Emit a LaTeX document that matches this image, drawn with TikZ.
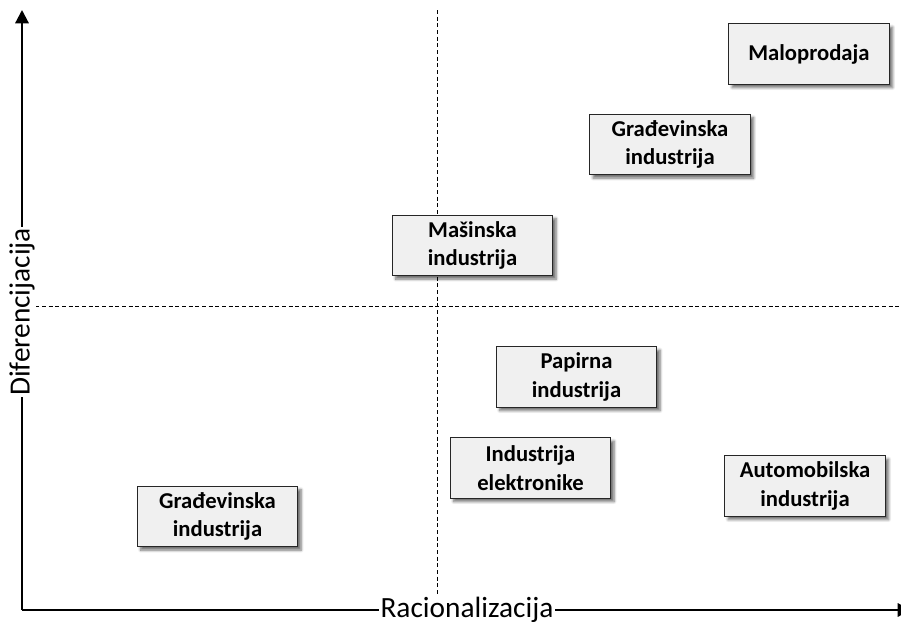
\documentclass[tikz,border=0pt]{standalone}
\usepackage{fontspec}
\setmainfont{Carlito}
\usetikzlibrary{arrows.meta,shadows.blur}
\begin{document}
\begin{tikzpicture}[x=0.75pt,y=-0.75pt,
  sector/.style={draw=black!85,line width=0.8pt,fill=black!6,
    minimum width=120.5pt,minimum height=45.5pt,align=center,
    font=\fontsize{17}{21.5}\selectfont\bfseries,inner sep=2pt,
    blur shadow={shadow xshift=2.5pt,shadow yshift=-2.5pt,shadow blur steps=6,shadow opacity=55}},
  axis/.style={line width=1.6pt,-{Triangle[width=10pt,length=10pt]}},
  guide/.style={line width=0.6pt,dash pattern=on 3pt off 2pt},
  axislabel/.style={fill=white,inner sep=1pt,font=\fontsize{22}{26}\selectfont}]
\useasboundingbox (0,0) rectangle (901,628);

% quadrant guides
\coordinate (vtop) at (437,10);
\coordinate (vbot) at (437,603);
\coordinate (hleft) at (22,306);
\coordinate (hright) at (900,306);
\draw[guide] (vtop) -- (vbot);
\draw[guide] (hleft) -- (hright);

% axes
\coordinate (o) at (22,610);
\coordinate (ytip) at (22,10);
\coordinate (xtip) at (911,610);
\draw[axis] (o) -- (ytip);
\draw[axis] (o) -- (xtip);
\node[axislabel] (xl) at (467,610) {Racionalizacija};
\node[axislabel,rotate=90] (yl) at (22,312) {Diferencijacija};

% industries
\node[sector] (malo) at (809,54) {Maloprodaja};
\node[sector] (grad1) at (670,144.5) {Građevinska\\industrija};
\node[sector] (masin) at (472.5,245.5) {Mašinska\\industrija};
\node[sector] (papir) at (576.5,377) {Papirna\\industrija};
\node[sector] (elek) at (530.5,468) {Industrija\\elektronike};
\node[sector] (auto) at (805,486) {Automobilska\\industrija};
\node[sector] (grad2) at (217.5,516.5) {Građevinska\\industrija};
\end{tikzpicture}
\end{document}
